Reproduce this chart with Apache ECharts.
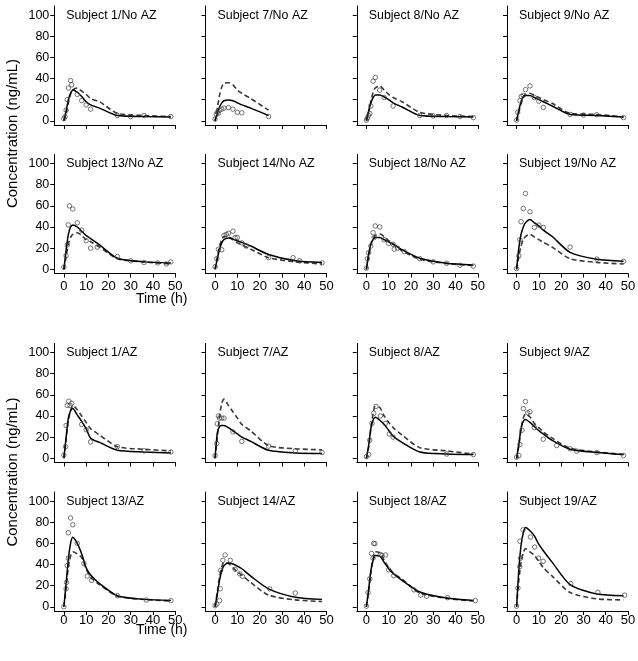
<!DOCTYPE html>
<html><head><meta charset="utf-8">
<script src="https://cdn.jsdelivr.net/npm/echarts@6/dist/echarts.min.js"></script>
<style>html,body{margin:0;padding:0;background:#fff}#c{width:638px;height:661px}</style>
</head><body><div id="c"></div>
<script>
// ---- data ----
const titles = ['Subject 1/No AZ','Subject 7/No AZ','Subject 8/No AZ','Subject 9/No AZ',
  'Subject 13/No AZ','Subject 14/No AZ','Subject 18/No AZ','Subject 19/No AZ',
  'Subject 1/AZ','Subject 7/AZ','Subject 8/AZ','Subject 9/AZ',
  'Subject 13/AZ','Subject 14/AZ','Subject 18/AZ','Subject 19/AZ'];
const xTicks = [0,10,20,30,40,50];
const yTicks = [0,20,40,60,80,100];
const fitTimes = [0,1,2,3,4,6,8,10,12,16,24,36,48];
const fitTimes24 = [0,1,2,3,4,6,8,10,12,16,24];

// No AZ
const obs_S1_NoAZ = [[0,2],[0.5,4],[1,10],[1.5,20],[2,31],[3,38],[3.5,34],[6,25],[8,19],[10,15],[12,11],[24,5],[30,4],[36,5],[48,4]];
const solid_S1_NoAZ = [0,9,20,26,29,27,23,18,15,12,5,4,3.5];
const dashed_S1_NoAZ = [0,7,17,25,29,31,28,25,21,18,7,5,4];

const obs_S7_NoAZ = [[0,1.6],[0.5,6],[1,8],[1.5,7],[2,10],[3,11],[4,12],[6,12.5],[8,11],[10,8],[12,7.5],[24,4]];
const solid_S7_NoAZ = [0,7,13,17,19,19.7,19,17,15,12,5];
const dashed_S7_NoAZ = [0,12,24,32,35.5,36,34,29,26,21,10];

const obs_S8_NoAZ = [[0,0.6],[0.5,2.5],[1,5],[1.5,7],[2,14],[3,37.5],[4,41],[6,29],[8,22],[12,14],[24,5],[30,4.5],[36,5],[42,4],[48,3]];
const solid_S8_NoAZ = [0,9,17,22,24.5,24.5,22.5,20,17,13,5,4,3.5];
const dashed_S8_NoAZ = [0,8,18,27,31,33,29,25,22,18,8,5,4];

const obs_S9_NoAZ = [[0,0.6],[0.5,8],[1.5,19],[2.2,23],[3,24],[4,29.5],[6,33],[8,22],[10,18.5],[12,12.7],[24,6],[30,5.4],[36,5.7],[48,3]];
const solid_S9_NoAZ = [0,10,18,23,24,24,22,20,18,14,6,5,3.5];
const dashed_S9_NoAZ = [0,8,16,22,25,26,24,22,20,16.5,7,6,3.5];

const obs_S13_NoAZ = [[0,2],[1,12.8],[1.5,23],[2,42],[2.5,60],[4,57],[6,44],[8,37],[10,27],[12,20],[15,21],[24,12],[30,8],[36,6.5],[42,6],[46,5],[48,7]];
const solid_S13_NoAZ = [0,18,33,40,42,40,36,32,29,23,10.5,7,6];
const dashed_S13_NoAZ = [0,12,24,30,33,34.5,32,28,26,21,10,7,5];

const obs_S14_NoAZ = [[0,2.5],[0.75,10],[1.5,19],[3,18.5],[4,32],[5,33],[6,34],[8,36],[9,30],[10,30],[12,25],[14,22],[24,11],[35,11],[38,8],[48,6]];
const solid_S14_NoAZ = [0,10,19,25,28,29.5,28.5,27,25.5,22,14,8,6.5];
const dashed_S14_NoAZ = [0,11,22,28,31,31,28,25,23,19,11,7,5];

const obs_S18_NoAZ = [[0,1],[0.5,10],[1,15.7],[2,22],[3,34.6],[3.5,30],[4,41],[6,40],[8,28],[10,24.5],[12,23.6],[12.5,19],[14,20],[17,16.7],[24,10],[30,7],[36,5.7],[42,3.8],[48,3]];
const solid_S18_NoAZ = [0,14,24,28,30,30,28,26,23.5,18.5,10.4,5.7,4];
const dashed_S18_NoAZ = [0,12,23,29,32,33.5,31,27,24,17.5,9.5,5.5,3.5];

const obs_S19_NoAZ = [[0,0.6],[1,12.6],[1.5,28],[2,45],[3,57.5],[4,71.7],[6,54.4],[8,39.6],[10,41.8],[12,39.6],[24,21],[36,9.7],[48,7.5]];
const solid_S19_NoAZ = [0,20,33,40,44,47,44,41,37,31,16,9.5,7.5];
const dashed_S19_NoAZ = [0,12,22,28,31,33,30.5,28,25.5,21,10,6.5,5];

// AZ
const obs_S1_AZ = [[0,3],[0.75,11],[1,31],[1.5,50],[2.2,54],[2.8,50],[3.5,52],[8,32],[10,27],[12,15.5],[24,11],[36,7],[48,6]];
const solid_S1_AZ = [0,20,38,45,47,41,35,28,19,15,7.5,6,5];
const dashed_S1_AZ = [0,18,36,45,50,46,40,34,28,22,11,8.5,7];

const obs_S7_AZ = [[0,2.5],[0.75,14],[1,32.6],[1.5,40],[2,38],[3,38],[4,38],[8,25],[12,16],[24,11.5],[36,7],[48,5.5]];
const solid_S7_AZ = [0,24,30,31,31,29,26,23,20,16,7.5,5,4.5];
const dashed_S7_AZ = [0,20,40,52,56,50,44,38,32,26,12,9,8];

const obs_S8_AZ = [[0,1.6],[1,3.5],[1.5,17],[2.5,33],[3.3,42.5],[4.3,49],[6.3,40],[8.5,33],[10.3,23],[12,20],[36,4],[48,3.5]];
const solid_S8_AZ = [0,12,28,36,38.7,36,32,26.5,21,15,6,4,3.5];
const dashed_S8_AZ = [0,10,28,42,49,48,40,34,29,22,10,7,4];

const obs_S9_AZ = [[0,1],[1,2.5],[1.5,13],[2.4,26.5],[3,47],[4,53.7],[5,43],[6,44],[8,29],[12,18],[18,12],[24,9],[27,6.7],[36,5.4],[48,2.6]];
const solid_S9_AZ = [0,13,28,35,36.7,34,30,26,23,17,8.5,5.4,3.5];
const dashed_S9_AZ = [0,12,28,38,42,39,33,29,25,19,9.5,6,3.5];

const obs_S13_AZ = [[0,0],[1,17],[1.2,23],[1.5,39],[2,46],[2,70],[3,84],[4,77.6],[6,60],[9,41],[10.5,29],[12.5,25],[24,10.5],[37,6.4],[48,5.8]];
const solid_S13_AZ = [0,22,45,60,65.8,60,50,37,30,22,10.5,7,6];
const dashed_S13_AZ = [0,18,38,48,52,50,46.6,36,28,21,10,7,5.5];

const obs_S14_AZ = [[0,1],[0.75,2.5],[2,5.8],[2.3,17],[2.5,34.5],[3.5,44],[4.5,49],[6.8,44],[9,35.5],[11,31.3],[12.3,28.8],[24.5,17],[36,13]];
const solid_S14_AZ = [0,12,25,34,39,41.5,40.5,38.5,36,29,17,9,7];
const dashed_S14_AZ = [0,14,28,38,42,41,37,33,30,23,11,6.5,5];

const obs_S18_AZ = [[0,0.6],[0.75,13.4],[1.5,26.5],[2.3,50.5],[3,46],[3.3,60],[3.8,59.7],[6.3,49.5],[7,48.6],[8.6,49],[10,35],[12.3,29.4],[21.4,16],[24.4,11],[27,10],[36.4,8.6],[48.9,5.8]];
const solid_S18_AZ = [0,16,34,44,48.5,48,42,36,31.5,25,14,8.3,6];
const dashed_S18_AZ = [0,14,32,45,52,51,44,37,32,26,13,8,5.5];

const obs_S19_AZ = [[0,0.6],[0.6,17.6],[1.4,38],[1.8,46],[1.5,62],[2.9,72.8],[3.9,102],[6.2,66],[8.1,56.5],[9.9,46],[11.9,43],[24.3,22],[36.5,13.7],[48.5,11]];
const solid_S19_AZ = [0,35,58,70,75,72,67,59,53,42,21,12,10.5];
const dashed_S19_AZ = [0,25,42,51,55,52,48.6,43,37,29,13.5,7.5,6.5];

const panelObs = [obs_S1_NoAZ,obs_S7_NoAZ,obs_S8_NoAZ,obs_S9_NoAZ,obs_S13_NoAZ,obs_S14_NoAZ,obs_S18_NoAZ,obs_S19_NoAZ,
  obs_S1_AZ,obs_S7_AZ,obs_S8_AZ,obs_S9_AZ,obs_S13_AZ,obs_S14_AZ,obs_S18_AZ,obs_S19_AZ];
const panelSolid = [solid_S1_NoAZ,solid_S7_NoAZ,solid_S8_NoAZ,solid_S9_NoAZ,solid_S13_NoAZ,solid_S14_NoAZ,solid_S18_NoAZ,solid_S19_NoAZ,
  solid_S1_AZ,solid_S7_AZ,solid_S8_AZ,solid_S9_AZ,solid_S13_AZ,solid_S14_AZ,solid_S18_AZ,solid_S19_AZ];
const panelDashed = [dashed_S1_NoAZ,dashed_S7_NoAZ,dashed_S8_NoAZ,dashed_S9_NoAZ,dashed_S13_NoAZ,dashed_S14_NoAZ,dashed_S18_NoAZ,dashed_S19_NoAZ,
  dashed_S1_AZ,dashed_S7_AZ,dashed_S8_AZ,dashed_S9_AZ,dashed_S13_AZ,dashed_S14_AZ,dashed_S18_AZ,dashed_S19_AZ];

// ---- layout ----
const FONT = "'Liberation Sans', Arial, Helvetica, sans-serif";
const colX = [54.3, 205.5, 356.8, 507];
const rowBottom = [125, 273.5, 462.5, 611];
const xLabelMargin = [6, 6, 6, 2.5];
const GW = 121, GH = 119;
const XMIN = -4.3, XMAX = 50, YMIN = -4, YMAX = 108.6;

const grids = [], xAxes = [], yAxes = [], series = [], graphics = [];
for (let p = 0; p < 16; p++) {
  const r = Math.floor(p / 4), c = p % 4;
  const top = rowBottom[r] - GH;
  grids.push({left: colX[c], top: top, width: GW, height: GH, containLabel: false, outerBoundsMode: 'none'});
  xAxes.push({
    type: 'value', gridIndex: p, min: XMIN, max: XMAX,
    axisLine: {show: true, onZero: false, lineStyle: {color: '#000', width: 1}},
    axisTick: {show: true, customValues: xTicks, length: 4, lineStyle: {color: '#000'}},
    axisLabel: {show: (r === 1 || r === 3), customValues: xTicks, margin: xLabelMargin[r], fontSize: 13, color: '#000', fontFamily: FONT},
    splitLine: {show: false}
  });
  yAxes.push({
    type: 'value', gridIndex: p, min: YMIN, max: YMAX,
    axisLine: {show: true, onZero: false, lineStyle: {color: '#000', width: 1}},
    axisTick: {show: true, customValues: yTicks, length: 4, lineStyle: {color: '#000'}},
    axisLabel: {show: c === 0, customValues: yTicks, margin: 5, fontSize: 12.5, color: '#000', fontFamily: FONT},
    splitLine: {show: false}
  });
  const tt = (p === 1) ? fitTimes24 : fitTimes;
  series.push({
    type: 'line', xAxisIndex: p, yAxisIndex: p, symbol: 'none', smooth: 0.25, z: 2,
    lineStyle: {color: '#3a3a3a', width: 1.6, type: [5, 3]},
    data: tt.map((t, i) => [t, panelDashed[p][i]])
  });
  series.push({
    type: 'line', xAxisIndex: p, yAxisIndex: p, symbol: 'none', smooth: 0.25, z: 3,
    lineStyle: {color: '#000', width: 1.5},
    data: tt.map((t, i) => [t, panelSolid[p][i]])
  });
  series.push({
    type: 'scatter', xAxisIndex: p, yAxisIndex: p, symbol: 'circle', symbolSize: 4.5, z: 4,
    itemStyle: {color: 'rgba(255,255,255,0)', borderColor: '#404040', borderWidth: 0.9},
    emphasis: {disabled: true},
    data: panelObs[p]
  });
  // panel title, aligned to the 100 tick
  const y100 = rowBottom[r] - (100 - YMIN) / (YMAX - YMIN) * GH;
  graphics.push({type: 'text', x: colX[c] + 12, y: y100, style: {text: titles[p], font: '12.4px ' + FONT, fill: '#000', verticalAlign: 'middle', align: 'left'}});
}
// axis titles
[133.5, 472].forEach(yc => graphics.push({type: 'text', x: 12.5, y: yc, rotation: Math.PI / 2,
  style: {text: 'Concentration (ng/mL)', font: '15px ' + FONT, fill: '#000', align: 'center', verticalAlign: 'middle'}}));
[299.5, 630].forEach(yc => graphics.push({type: 'text', x: 161.7, y: yc,
  style: {text: 'Time (h)', font: '14px ' + FONT, fill: '#000', align: 'center', verticalAlign: 'middle'}}));

const chart = echarts.init(document.getElementById('c'), null, {renderer: 'canvas'});
chart.setOption({
  animation: false,
  backgroundColor: '#fff',
  grid: grids, xAxis: xAxes, yAxis: yAxes, series: series,
  graphic: graphics
});
</script></body></html>
